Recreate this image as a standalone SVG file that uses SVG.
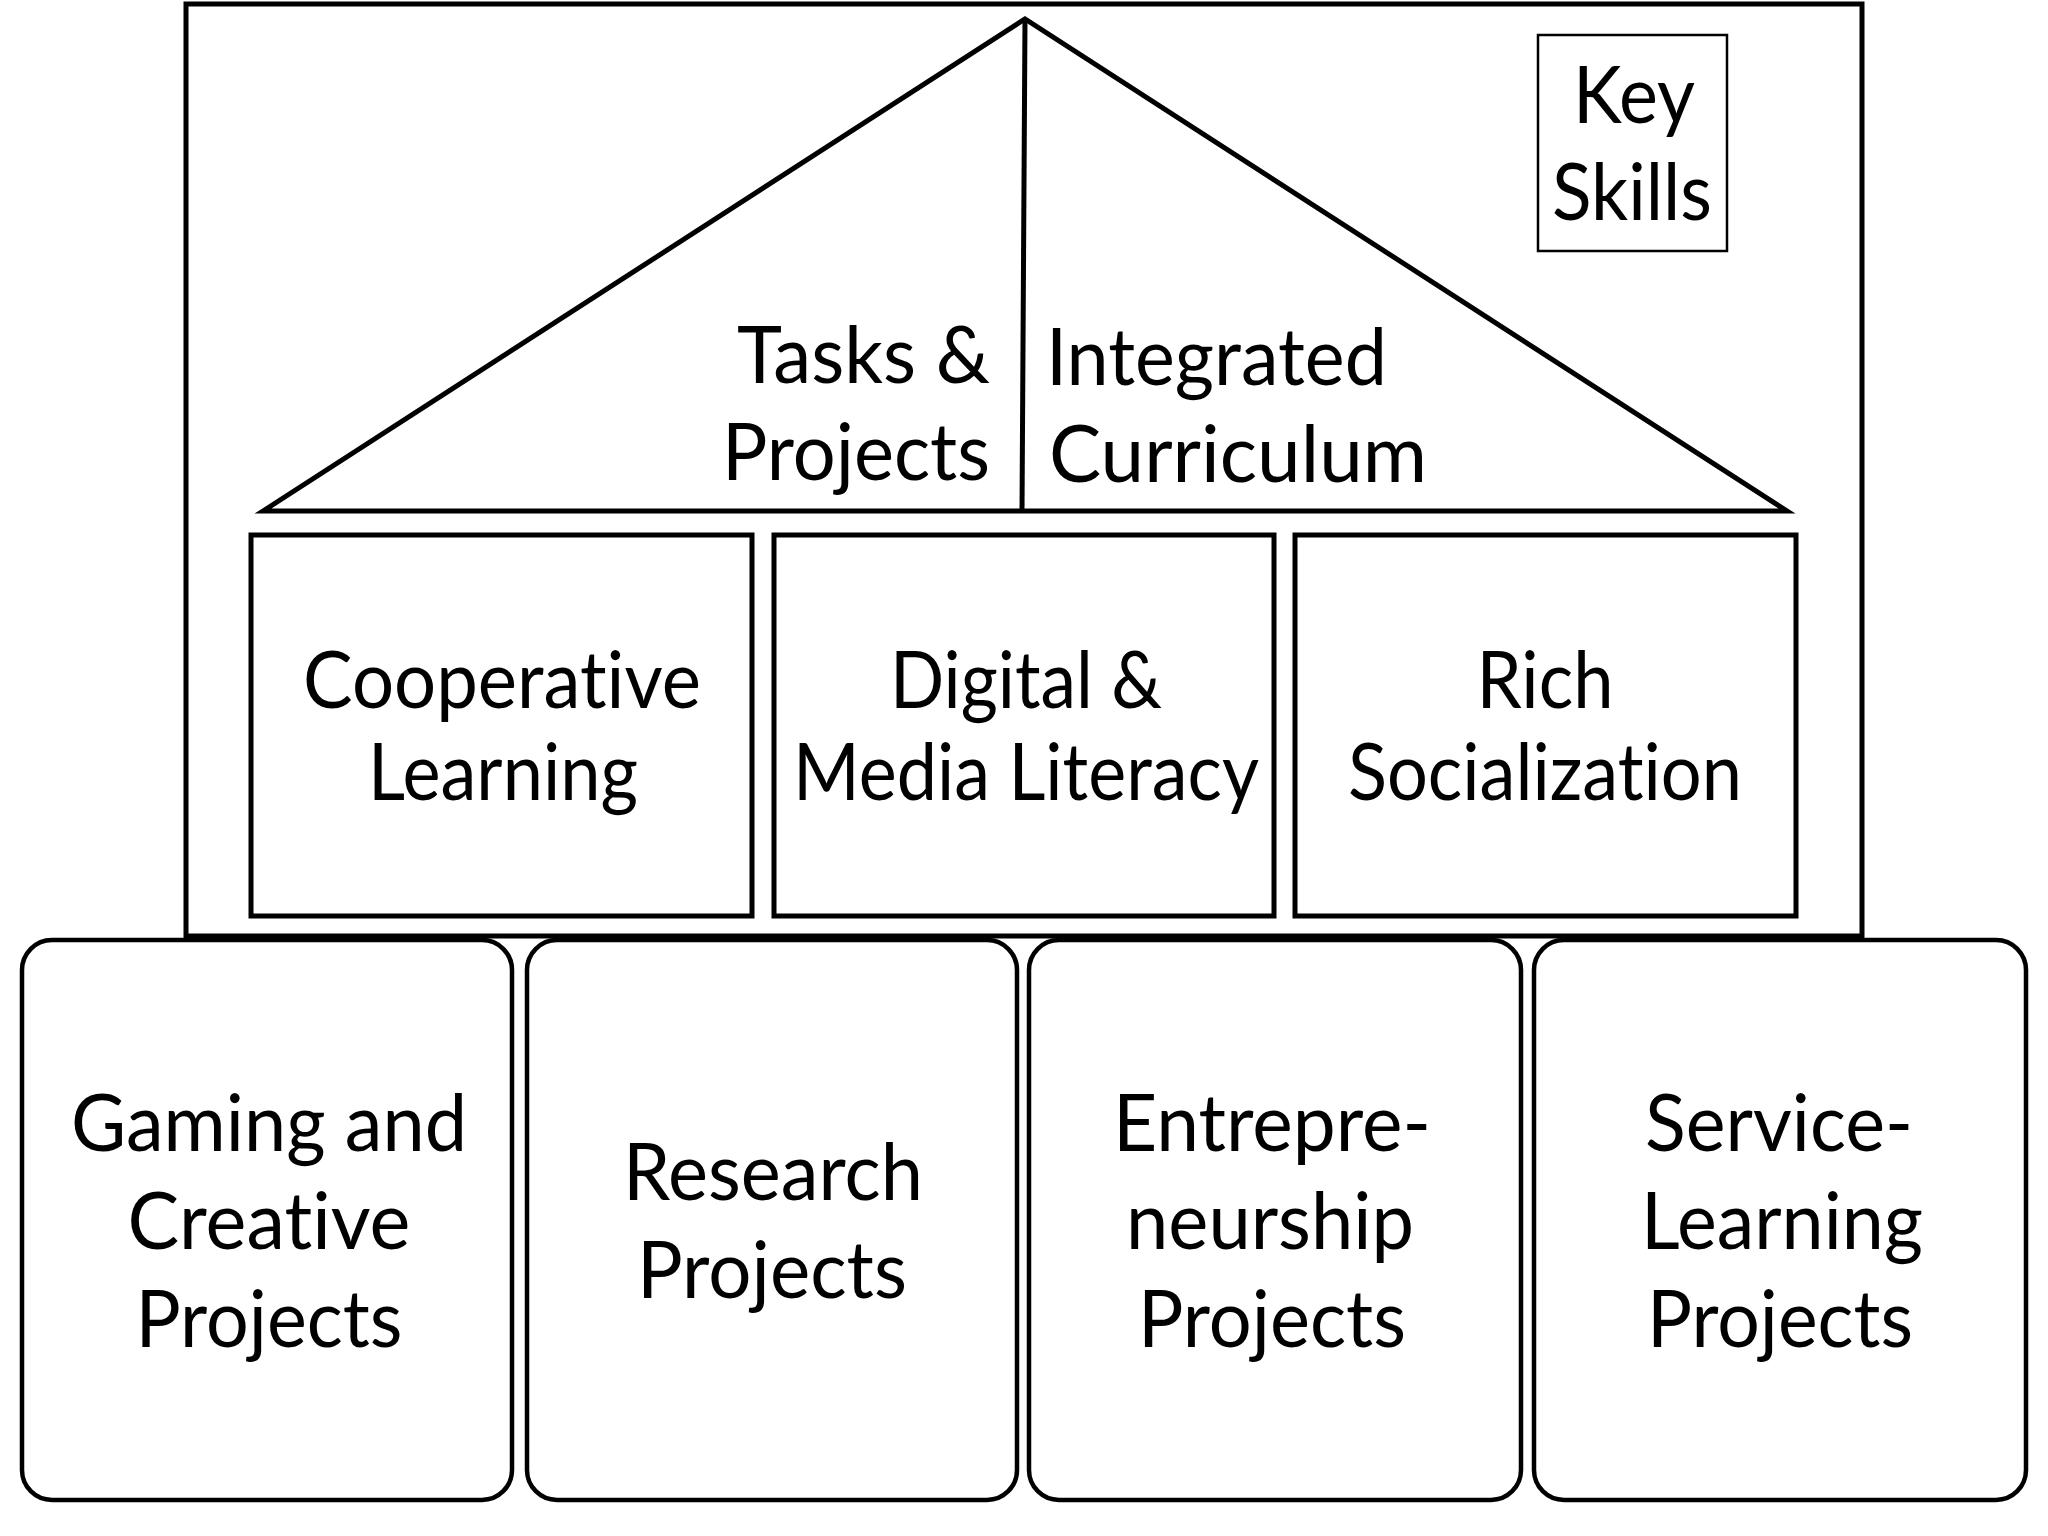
<svg xmlns="http://www.w3.org/2000/svg" width="2048" height="1536" viewBox="0 0 2048 1536">
  <style>
    .bg { fill: #ffffff; }
    .frame { fill: #ffffff; stroke: #000000; stroke-width: 5; }
    .roof { fill: #ffffff; stroke: #000000; stroke-width: 5; stroke-linejoin: miter; }
    .pillar { fill: #ffffff; stroke: #000000; stroke-width: 5; }
    .base { fill: #ffffff; stroke: #000000; stroke-width: 4.5; }
    .key { fill: #ffffff; stroke: #000000; stroke-width: 2.5; }
    .line { fill: none; stroke: #000000; stroke-width: 5; }
    text { font-family: "Lato", "Liberation Sans", sans-serif; font-size: 79px; fill: #000000; font-variant-ligatures: none; font-feature-settings: "liga" 0, "clig" 0, "dlig" 0; }
    .c { text-anchor: middle; }
    .e { text-anchor: end; }
    .s { text-anchor: start; }
  </style>
  <rect class="bg" x="0" y="0" width="2048" height="1536"/>

  <g id="frame">
    <rect class="frame" x="186" y="4" width="1676" height="932"/>
  </g>

  <g id="roof">
    <polygon class="roof" points="263,511 1025,19 1787,511"/>
  </g>

  <g id="connectors">
    <line class="line" x1="1025" y1="19" x2="1022" y2="511"/>
  </g>

  <g id="tasks-projects">
    <text class="e" x="990" y="383" textLength="253" lengthAdjust="spacingAndGlyphs">Tasks &amp;</text>
    <text class="e" x="990" y="480" textLength="268" lengthAdjust="spacingAndGlyphs">Projects</text>
  </g>

  <g id="integrated-curriculum">
    <text class="s" x="1046" y="385" textLength="341" lengthAdjust="spacingAndGlyphs">Integrated</text>
    <text class="s" x="1049" y="482" textLength="378" lengthAdjust="spacingAndGlyphs">Curriculum</text>
  </g>

  <g id="key-skills">
    <rect class="key" x="1538" y="35" width="189" height="216"/>
    <text class="c" x="1634" y="123" textLength="122" lengthAdjust="spacingAndGlyphs">Key</text>
    <text class="c" x="1632" y="220" textLength="160" lengthAdjust="spacingAndGlyphs">Skills</text>
  </g>

  <g id="cooperative-learning">
    <rect class="pillar" x="251" y="535" width="501" height="381"/>
    <text class="c" x="502" y="708" textLength="398" lengthAdjust="spacingAndGlyphs">Cooperative</text>
    <text class="c" x="503" y="800" textLength="270" lengthAdjust="spacingAndGlyphs">Learning</text>
  </g>

  <g id="digital-media-literacy">
    <rect class="pillar" x="774" y="535" width="500" height="381"/>
    <text class="c" x="1026" y="708" textLength="272" lengthAdjust="spacingAndGlyphs">Digital &amp;</text>
    <text class="c" x="1026" y="800" textLength="466" lengthAdjust="spacingAndGlyphs">Media Literacy</text>
  </g>

  <g id="rich-socialization">
    <rect class="pillar" x="1295" y="535" width="501" height="381"/>
    <text class="c" x="1545" y="708" textLength="137" lengthAdjust="spacingAndGlyphs">Rich</text>
    <text class="c" x="1545" y="800" textLength="394" lengthAdjust="spacingAndGlyphs">Socialization</text>
  </g>

  <g id="gaming-creative-projects">
    <rect class="base" x="22" y="940" width="490" height="560" rx="30" ry="30"/>
    <text class="c" x="269" y="1151" textLength="396" lengthAdjust="spacingAndGlyphs">Gaming and</text>
    <text class="c" x="269" y="1249" textLength="283" lengthAdjust="spacingAndGlyphs">Creative</text>
    <text class="c" x="269" y="1347" textLength="267" lengthAdjust="spacingAndGlyphs">Projects</text>
  </g>

  <g id="research-projects">
    <rect class="base" x="527" y="940" width="490" height="560" rx="30" ry="30"/>
    <text class="c" x="773" y="1200" textLength="300" lengthAdjust="spacingAndGlyphs">Research</text>
    <text class="c" x="772" y="1298" textLength="270" lengthAdjust="spacingAndGlyphs">Projects</text>
  </g>

  <g id="entrepreneurship-projects">
    <rect class="base" x="1029" y="940" width="492" height="560" rx="30" ry="30"/>
    <text class="c" x="1272" y="1151" textLength="318" lengthAdjust="spacingAndGlyphs">Entrepre-</text>
    <text class="c" x="1270" y="1249" textLength="288" lengthAdjust="spacingAndGlyphs">neurship</text>
    <text class="c" x="1272" y="1347" textLength="268" lengthAdjust="spacingAndGlyphs">Projects</text>
  </g>

  <g id="service-learning-projects">
    <rect class="base" x="1534" y="940" width="492" height="560" rx="30" ry="30"/>
    <text class="c" x="1779" y="1151" textLength="268" lengthAdjust="spacingAndGlyphs">Service-</text>
    <text class="c" x="1782" y="1249" textLength="282" lengthAdjust="spacingAndGlyphs">Learning</text>
    <text class="c" x="1780" y="1347" textLength="266" lengthAdjust="spacingAndGlyphs">Projects</text>
  </g>
</svg>
